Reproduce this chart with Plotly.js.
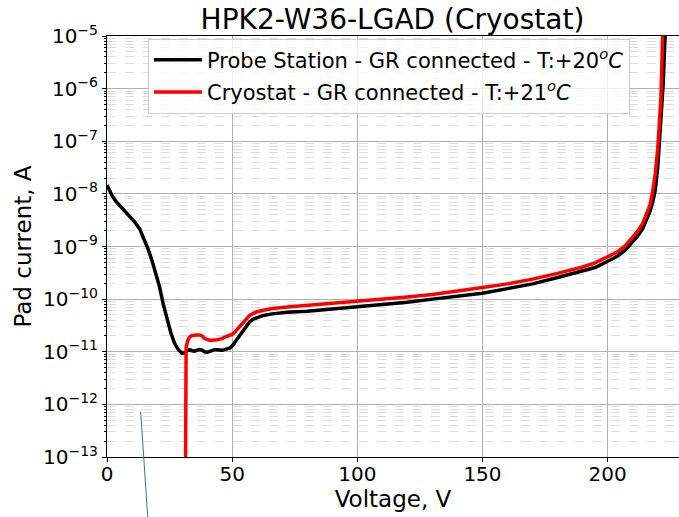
<!DOCTYPE html>
<html>
<head>
<meta charset="utf-8">
<script src="https://cdn.plot.ly/plotly-3.0.1.min.js"></script>
<style>
html,body{margin:0;padding:0;background:#fff;overflow:hidden;}
#chart{width:679px;height:517px;}
</style>
</head>
<body>
<div id="chart"></div>
<script>
// Probe Station - GR connected - T:+20 C  (voltage in V, log10 of pad current in A)
var probeV = [0, 1, 2, 3.5, 5, 7, 9, 11, 13, 15, 16.5, 18, 19.5, 21, 22.5, 24, 25.5, 27, 28.5, 30,
  31, 32, 33, 34, 35, 36, 37, 38, 39, 40, 41, 42, 43, 44, 45, 46, 47, 48, 49, 50,
  51, 52, 53, 54, 55, 56, 57, 58.5, 60, 62.5, 66, 72, 80, 90, 100, 110, 120, 130, 140, 150,
  160, 170, 180, 190, 195, 200, 204, 207, 210, 212, 214, 215.5, 217, 218, 219, 220, 220.8, 221.5, 222.2, 222.8, 223.3];
var probeLogI = [-7.83, -7.93, -8.03, -8.14, -8.22, -8.32, -8.42, -8.53, -8.66, -8.88, -9.06, -9.27, -9.50, -9.77, -10.10, -10.40, -10.64, -10.84, -10.96, -11.03,
  -11.02, -10.98, -10.96, -10.98, -10.99, -10.97, -10.96, -10.97, -11.00, -11.01, -10.99, -10.97, -10.96, -10.96, -10.97, -10.97, -10.96, -10.95, -10.93, -10.89,
  -10.82, -10.76, -10.70, -10.63, -10.56, -10.49, -10.43, -10.38, -10.35, -10.31, -10.28, -10.25, -10.23, -10.19, -10.15, -10.11, -10.06, -10.00, -9.95, -9.89,
  -9.80, -9.71, -9.59, -9.47, -9.40, -9.28, -9.18, -9.07, -8.92, -8.80, -8.66, -8.50, -8.32, -8.15, -7.93, -7.50, -6.95, -6.45, -5.90, -5.15, -4.70];

// Cryostat - GR connected - T:+21 C
var cryoV = [31.3, 31.6, 32.3, 33, 34, 35, 36, 37, 38, 39, 40, 41, 42, 43, 44, 45, 46, 47, 48, 49, 50,
  51, 52, 53, 54, 55, 56, 57, 58.5, 60, 62.5, 66, 72, 80, 90, 100, 110, 120, 130, 140, 150,
  160, 170, 180, 190, 195, 200, 204, 207, 210, 212, 214, 215.5, 217, 218, 219, 220, 220.6, 221.3, 221.9, 222.3];
var cryoLogI = [-14.0, -10.92, -10.78, -10.72, -10.69, -10.68, -10.68, -10.68, -10.70, -10.75, -10.77, -10.78, -10.78, -10.78, -10.77, -10.76, -10.75, -10.72, -10.70, -10.69, -10.67,
  -10.63, -10.58, -10.52, -10.46, -10.41, -10.36, -10.31, -10.27, -10.24, -10.21, -10.18, -10.15, -10.12, -10.08, -10.04, -10.00, -9.96, -9.91, -9.85, -9.78,
  -9.71, -9.62, -9.51, -9.39, -9.31, -9.19, -9.10, -8.99, -8.83, -8.71, -8.56, -8.40, -8.20, -7.95, -7.62, -7.15, -6.78, -6.15, -5.06, -4.60];

var seriesNames = [
  "Probe Station - GR connected - T:+20<sup><i>o</i></sup><i>C</i>",
  "Cryostat - GR connected - T:+21<sup><i>o</i></sup><i>C</i>"
];
var xTickVals = [0, 50, 100, 150, 200];
var yExponents = [-13, -12, -11, -10, -9, -8, -7, -6, -5];

function pow10(arr){ return arr.map(function(v){ return Math.pow(10, v); }); }

var yTickVals = yExponents.map(function(e){ return Math.pow(10, e); });
var yTickText = yExponents.map(function(e){ return "10<sup>\u2212" + Math.abs(e) + "</sup>"; });
var yMinorVals = [];
for (var e = -13; e < -5; e++) { for (var k = 2; k <= 9; k++) { yMinorVals.push(k * Math.pow(10, e)); } }

var FONT = "DejaVu Sans, Verdana, sans-serif";

var traces = [
  {x: probeV, y: pow10(probeLogI), name: seriesNames[0], mode: "lines",
   line: {color: "#000000", width: 3.5}, legendgroup: "a"},
  {x: cryoV, y: pow10(cryoLogI), name: seriesNames[1], mode: "lines",
   line: {color: "#ff0000", width: 3.5}, legendgroup: "b"}
];

var layout = {
  width: 679, height: 517,
  margin: {l: 107, r: 0, t: 36, b: 60},
  paper_bgcolor: "#ffffff", plot_bgcolor: "#ffffff",
  font: {family: FONT, color: "#000000", size: 20},
  title: {text: "HPK2-W36-LGAD (Cryostat)", font: {family: FONT, size: 28, color: "#000"},
          x: 0.578, xanchor: "center", y: 0.962, yanchor: "middle", yref: "container", xref: "container"},
  showlegend: true,
  legend: {x: 0.493, xanchor: "center", y: 0.994, yanchor: "top",
           bgcolor: "rgba(255,255,255,0.8)", bordercolor: "#cccccc", borderwidth: 1,
           font: {family: FONT, size: 21, color: "#000"}, tracegroupgap: 2, traceorder: "grouped",
           itemwidth: 48},
  xaxis: {range: [0, 228.5], tickmode: "array", tickvals: xTickVals,
          showgrid: true, gridcolor: "#b0b0b0", gridwidth: 1,
          zeroline: false, showline: true, linecolor: "#000", linewidth: 1, mirror: true,
          ticks: "outside", ticklen: 4, tickcolor: "#000", ticklabelstandoff: -5,
          tickfont: {family: FONT, size: 20, color: "#000"},
          title: {text: "Voltage, V", font: {family: FONT, size: 23, color: "#000"}, standoff: 0}},
  yaxis: {type: "log", range: [-13, -5], tickmode: "array", tickvals: yTickVals, ticktext: yTickText,
          showgrid: true, gridcolor: "#b0b0b0", gridwidth: 1,
          zeroline: false, showline: true, linecolor: "#000", linewidth: 1, mirror: false,
          ticks: "outside", ticklen: 4, tickcolor: "#000",
          tickfont: {family: FONT, size: 20, color: "#000"},
          minor: {tickmode: "array", tickvals: yMinorVals, ticks: "outside", ticklen: 2, tickcolor: "#000",
                  showgrid: true, gridcolor: "#dddddd", griddash: "dash", gridwidth: 1},
          title: {text: "Pad current, A", font: {family: FONT, size: 23, color: "#000"}, standoff: 4}},
  shapes: [
    {type: "line", xref: "paper", yref: "paper", x0: 0.0589, y0: 0.1076, x1: 0.0715, y1: -0.1496,
     line: {color: "#3b6db3", width: 1}}
  ]
};

Plotly.newPlot("chart", traces, layout, {displayModeBar: false, staticPlot: true});
</script>
</body>
</html>
